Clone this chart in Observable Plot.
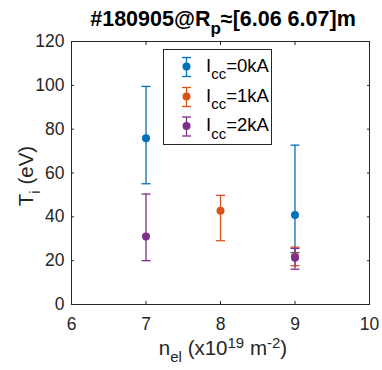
<!DOCTYPE html>
<html>
<head>
<meta charset="utf-8">
<script src="https://cdn.jsdelivr.net/npm/d3@7"></script>
<script src="https://cdn.jsdelivr.net/npm/@observablehq/plot@0.6"></script>
<style>
  html, body { margin: 0; padding: 0; background: #fff; }
  svg { display: block; }
</style>
</head>
<body>
<div id="chart"></div>
<script>
// Ion temperature vs line-averaged density for three coil currents
const nel0 = [7, 9];
const ti0 = [75.8, 40.8];
const lo0 = [55.1, 23.7];
const hi0 = [99.5, 72.7];

const nel1 = [8, 9];
const ti1 = [42.8, 22.0];
const lo1 = [29.1, 17.7];
const hi1 = [49.8, 26.2];

const nel2 = [7, 9];
const ti2 = [31.0, 21.3];
const lo2 = [20.0, 16.1];
const hi2 = [50.4, 25.6];

const seriesNames = ["=0kA", "=1kA", "=2kA"];
const colors = ["#0072BD", "#D95319", "#7E2F8E"];
const xTicks = [6, 7, 8, 9, 10];
const yTicks = [0, 20, 40, 60, 80, 100, 120];

const series = [
  {x: nel0, y: ti0, lo: lo0, hi: hi0},
  {x: nel1, y: ti1, lo: lo1, hi: hi1},
  {x: nel2, y: ti2, lo: lo2, hi: hi2}
].map((s, k) => s.x.map((x, i) => ({k, x, y: s.y[i], lo: s.lo[i], hi: s.hi[i]})));

// horizontal cap for error bars
const capSymbol = {draw(ctx) { ctx.moveTo(-4.5, 0); ctx.lineTo(4.5, 0); }};

const marks = [];
series.forEach((rows, k) => {
  marks.push(Plot.ruleX(rows, {x: "x", y1: "lo", y2: "hi", stroke: colors[k], strokeWidth: 1.3}));
  marks.push(Plot.dot(rows, {x: "x", y: "lo", symbol: capSymbol, stroke: colors[k], strokeWidth: 1.3, fill: "none"}));
  marks.push(Plot.dot(rows, {x: "x", y: "hi", symbol: capSymbol, stroke: colors[k], strokeWidth: 1.3, fill: "none"}));
  marks.push(Plot.dot(rows, {x: "x", y: "y", r: 4, fill: colors[k], stroke: "none"}));
});

const fmt = d => String(d);

const svg = Plot.plot({
  width: 382,
  height: 370,
  marginLeft: 71,
  marginRight: 13,
  marginTop: 41,
  marginBottom: 66,
  style: {fontFamily: "'Liberation Sans', Arial, sans-serif", fontSize: "17px", color: "#262626", background: "#fff", overflow: "visible"},
  x: {domain: [6, 10]},
  y: {domain: [0, 120]},
  marks: [
    ...marks,
    Plot.frame({stroke: "#262626", strokeWidth: 1}),
    Plot.axisX({ticks: xTicks, anchor: "bottom", tickSize: -3, tickPadding: 16, tickFormat: fmt, label: null, fontSize: 17.5}),
    Plot.axisX({ticks: xTicks, anchor: "top", tickSize: -3, tickFormat: () => "", label: null}),
    Plot.axisY({ticks: yTicks, anchor: "left", tickSize: -3, tickPadding: 10, tickFormat: fmt, label: null, fontSize: 17.5}),
    Plot.axisY({ticks: yTicks, anchor: "right", tickSize: -3, tickFormat: () => "", label: null})
  ]
});

const root = d3.select(svg);
const font = "'Liberation Sans', Arial, sans-serif";

// title
const title = root.append("text")
  .attr("x", 223).attr("y", 26)
  .attr("text-anchor", "middle")
  .attr("font-family", font).attr("font-size", 21.5).attr("font-weight", "bold")
  .attr("fill", "#000");
title.append("tspan").text("#180905@R");
title.append("tspan").attr("dy", 8).attr("font-size", 17).text("p");
title.append("tspan").attr("dy", -8).text("≈[6.06 6.07]m");

// x label
const xl = root.append("text")
  .attr("x", 223).attr("y", 355)
  .attr("text-anchor", "middle")
  .attr("font-family", font).attr("font-size", 20.5).attr("fill", "#262626");
xl.append("tspan").text("n");
xl.append("tspan").attr("dy", 7).attr("font-size", 15).text("el");
xl.append("tspan").attr("dy", -7).text(" (x10");
xl.append("tspan").attr("dy", -7).attr("font-size", 15).text("19");
xl.append("tspan").attr("dy", 7).text(" m");
xl.append("tspan").attr("dy", -7).attr("font-size", 15).text("-2");
xl.append("tspan").attr("dy", 7).text(")");

// y label
const yl = root.append("text")
  .attr("transform", "translate(33,176) rotate(-90)")
  .attr("text-anchor", "middle")
  .attr("font-family", font).attr("font-size", 20.5).attr("fill", "#262626");
yl.append("tspan").text("T");
yl.append("tspan").attr("dy", 7).attr("font-size", 15).text("i");
yl.append("tspan").attr("dy", -7).text(" (eV)");

// legend
const lg = root.append("g").attr("text-anchor", "start");
lg.append("rect").attr("x", 163.5).attr("y", 49.5).attr("width", 108).attr("height", 95)
  .attr("fill", "#fff").attr("stroke", "#262626").attr("stroke-width", 1);
const rowY = [66.5, 96.5, 126];
seriesNames.forEach((name, k) => {
  const cy = rowY[k], cx = 186.5, c = colors[k];
  lg.append("line").attr("x1", cx).attr("x2", cx).attr("y1", cy - 9).attr("y2", cy + 10).attr("stroke", c).attr("stroke-width", 1.3);
  lg.append("line").attr("x1", cx - 4.5).attr("x2", cx + 4.5).attr("y1", cy - 9).attr("y2", cy - 9).attr("stroke", c).attr("stroke-width", 1.3);
  lg.append("line").attr("x1", cx - 4.5).attr("x2", cx + 4.5).attr("y1", cy + 10).attr("y2", cy + 10).attr("stroke", c).attr("stroke-width", 1.3);
  lg.append("circle").attr("cx", cx).attr("cy", cy).attr("r", 4).attr("fill", c);
  const t = lg.append("text").attr("x", 206).attr("y", cy + 5).attr("text-anchor", "start")
    .attr("font-family", font).attr("font-size", 18.5).attr("fill", "#000");
  t.append("tspan").text("I");
  t.append("tspan").attr("dy", 7.5).attr("font-size", 15).text("cc");
  t.append("tspan").attr("dy", -7.5).text(name);
});

document.getElementById("chart").appendChild(svg);
</script>
</body>
</html>
